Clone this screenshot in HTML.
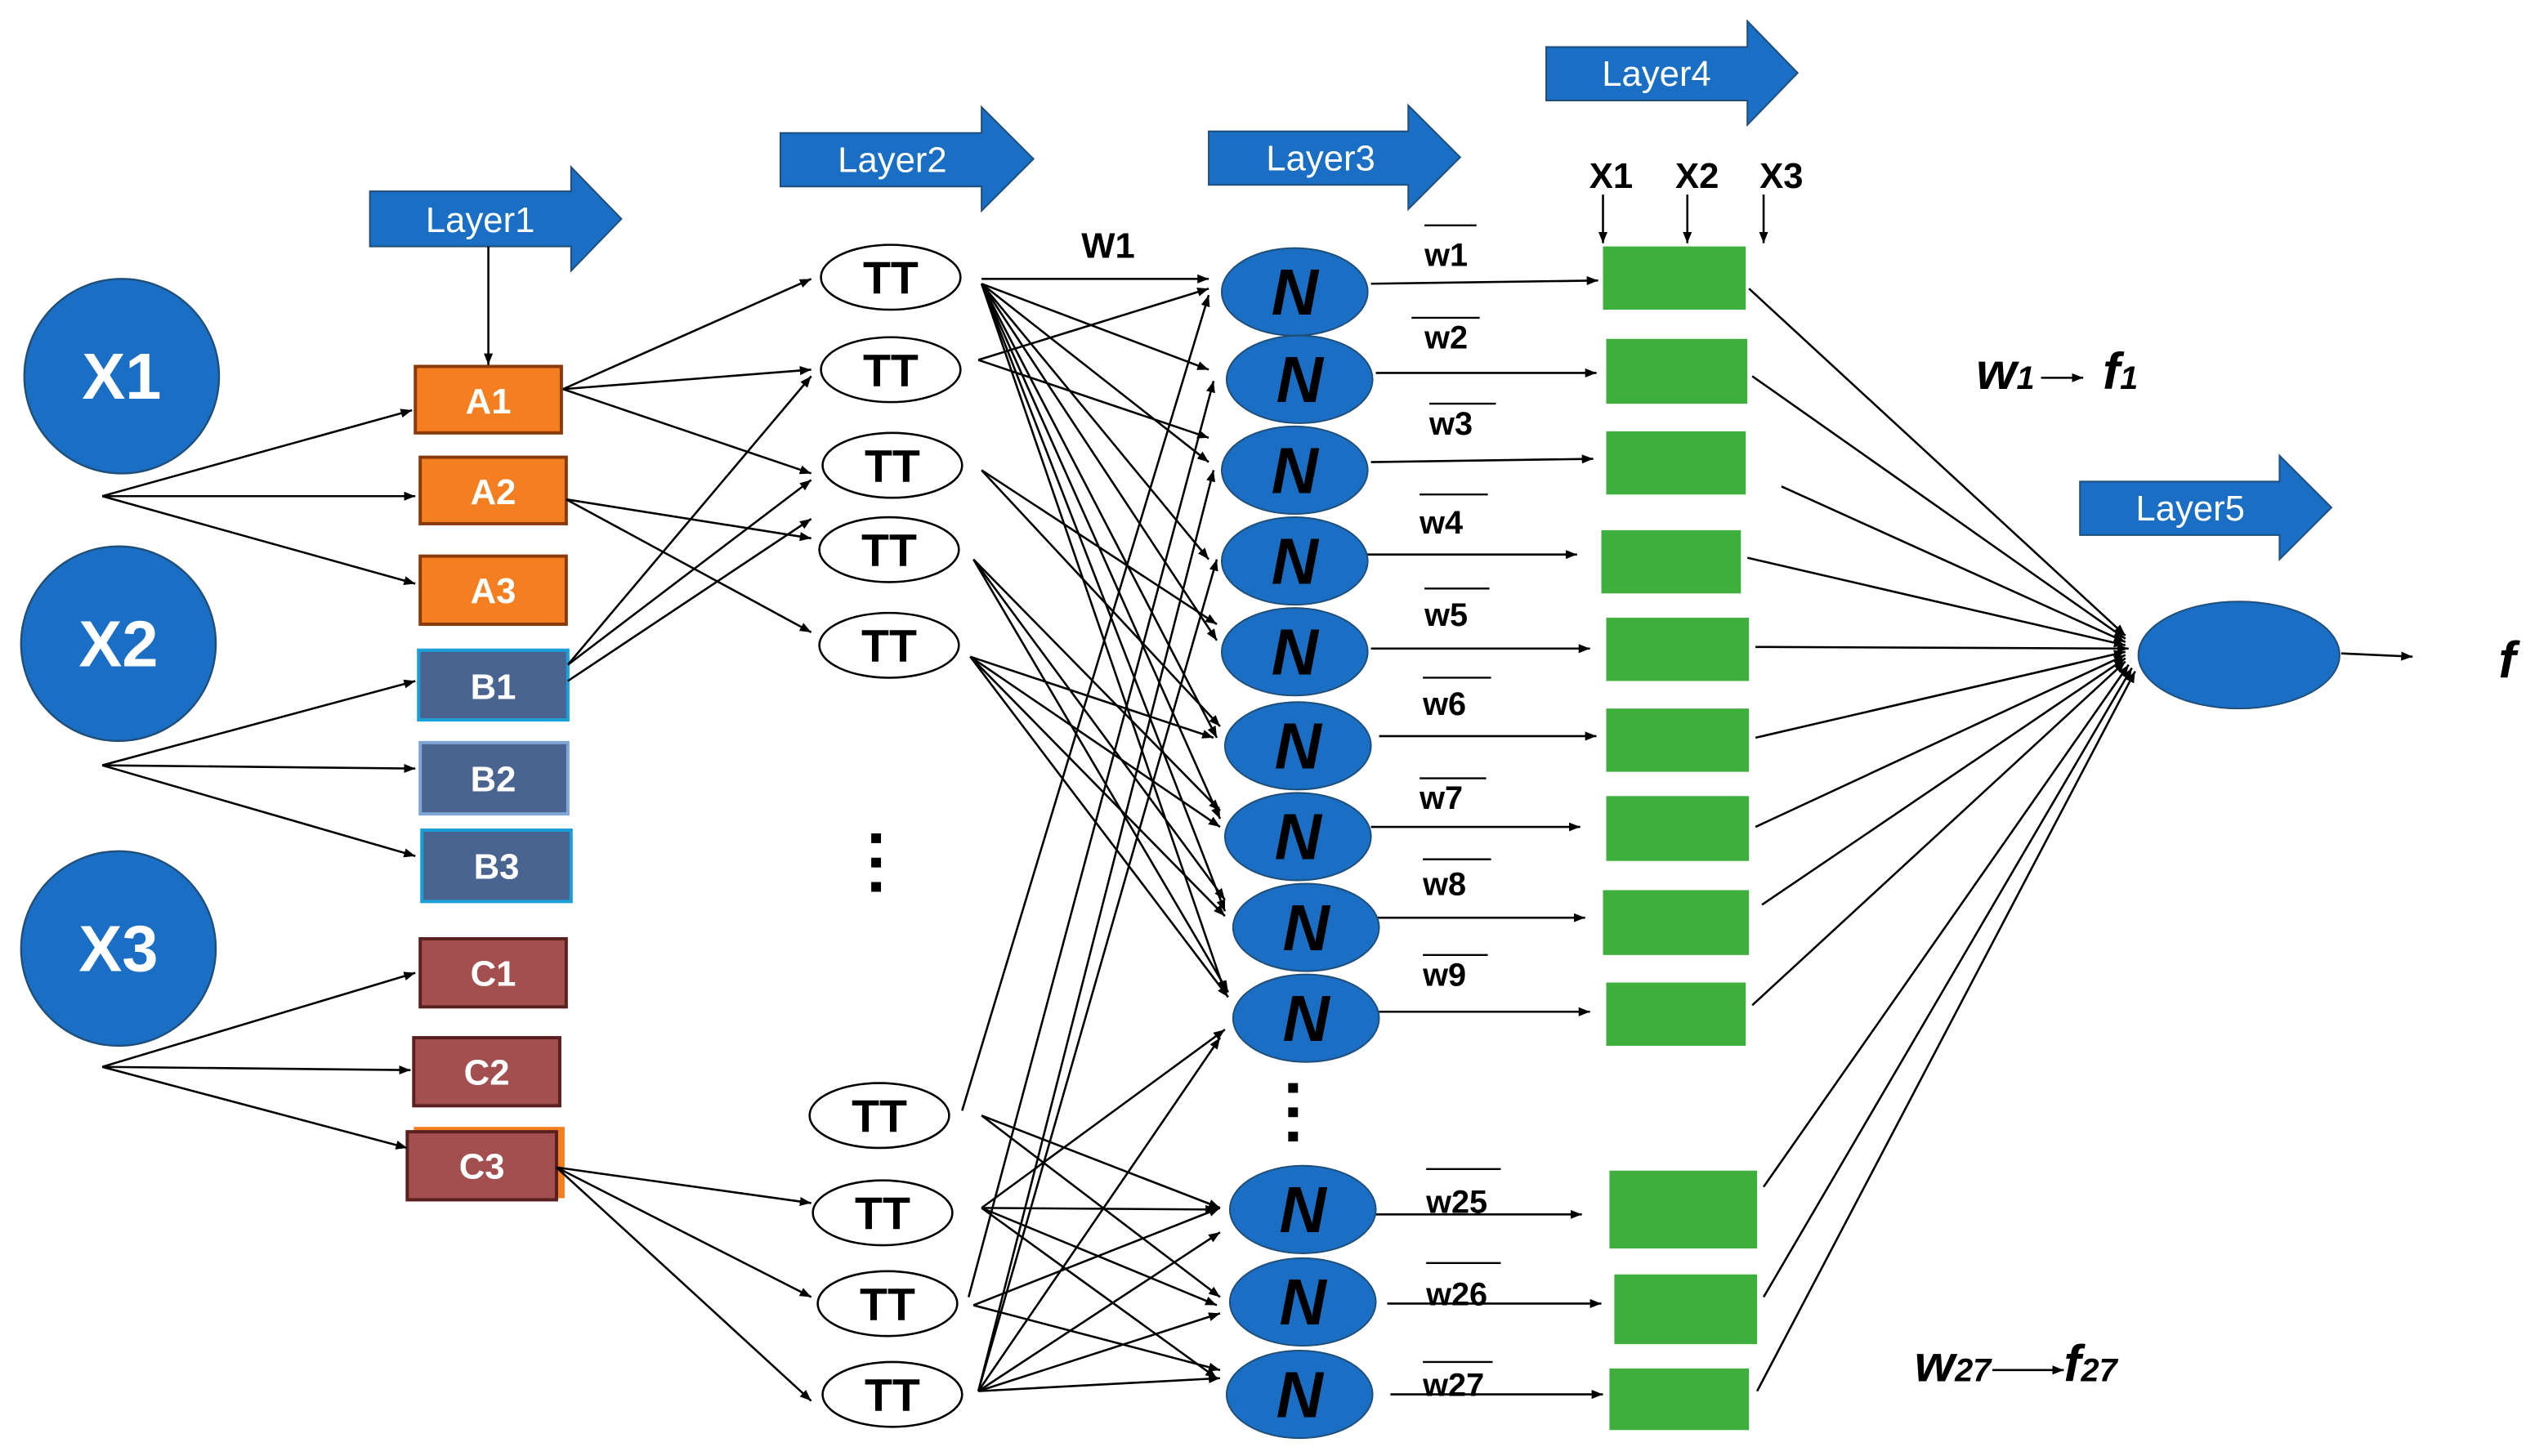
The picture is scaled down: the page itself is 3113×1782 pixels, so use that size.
<!DOCTYPE html>
<html><head><meta charset="utf-8"><style>
html,body{margin:0;padding:0;background:#fff}
svg{display:block}
text{font-family:"Liberation Sans",sans-serif}
</style></head><body>
<svg width="3113" height="1782" viewBox="0 0 1568 898" preserveAspectRatio="none" xmlns="http://www.w3.org/2000/svg">
<defs>
<marker id="a" viewBox="0 0 10 10" refX="10" refY="5" markerWidth="7" markerHeight="7" markerUnits="userSpaceOnUse" orient="auto"><path d="M0,1 L10,5 L0,9 z" fill="#000"/></marker>
</defs>
<g fill="#1a6fc4" stroke="#1f4e79" stroke-width="1">
<path d="M228,118 H352 V103 L383,135 L352,167 V152 H228 z"/>
<path d="M481,82 H605 V66 L637,98 L605,130 V115 H481 z"/>
<path d="M745,81 H868 V65 L900,97 L868,129 V114 H745 z"/>
<path d="M953,29 H1077 V13 L1108,45 L1077,77 V62 H953 z"/>
<path d="M1282,297 H1405 V281 L1437,313 L1405,345 V330 H1282 z"/>
</g>
<g fill="#fff" font-size="22" text-anchor="middle">
<text x="296" y="143">Layer1</text><text x="550" y="106">Layer2</text><text x="814" y="105">Layer3</text><text x="1021" y="53">Layer4</text><text x="1350" y="321">Layer5</text>
</g>
<g fill="#1a6fc4" stroke="#1f4e79" stroke-width="1.2">
<circle cx="75" cy="232" r="60"/><circle cx="73" cy="397" r="60"/><circle cx="73" cy="585" r="60"/>
</g>
<g fill="#fff" font-size="40" font-weight="bold" text-anchor="middle">
<text x="75" y="246">X1</text><text x="73" y="411">X2</text><text x="73" y="599">X3</text>
</g>
<g stroke-width="2">
<rect x="256" y="226" width="90" height="41" fill="#f47f20" stroke="#8a3a0a"/>
<rect x="259" y="282" width="90" height="41" fill="#f47f20" stroke="#8a3a0a"/>
<rect x="259" y="343" width="90" height="42" fill="#f47f20" stroke="#8a3a0a"/>
<rect x="258" y="401" width="92" height="43" fill="#4a6491" stroke="#1aa0d8"/>
<rect x="259" y="458" width="91" height="44" fill="#4a6491" stroke="#7fa6d8"/>
<rect x="260" y="512" width="92" height="44" fill="#4a6491" stroke="#1aa0d8"/>
<rect x="259" y="579" width="90" height="42" fill="#a34f4f" stroke="#5a2020"/>
<rect x="255" y="640" width="90" height="42" fill="#a34f4f" stroke="#5a2020"/>
<rect x="256" y="696" width="91" height="42" fill="#f47f20" stroke="#f47f20"/>
<rect x="251" y="698" width="92" height="42" fill="#a34f4f" stroke="#5a2020"/>
</g>
<g fill="#fff" font-size="22" font-weight="bold" text-anchor="middle">
<text x="301" y="255">A1</text><text x="304" y="311">A2</text><text x="304" y="372">A3</text>
<text x="304" y="431">B1</text><text x="304" y="488">B2</text><text x="306" y="542">B3</text>
<text x="304" y="608">C1</text><text x="300" y="669">C2</text><text x="297" y="727">C3</text>
</g>
<g stroke="#000" stroke-width="1.3" fill="none" marker-end="url(#a)">
<line x1="301" y1="152" x2="301" y2="225"/>
<line x1="63" y1="306" x2="254" y2="253"/><line x1="63" y1="306" x2="256" y2="306"/><line x1="63" y1="306" x2="256" y2="360"/>
<line x1="63" y1="472" x2="256" y2="420"/><line x1="63" y1="472" x2="256" y2="474"/><line x1="63" y1="472" x2="256" y2="528"/>
<line x1="63" y1="658" x2="256" y2="600"/><line x1="63" y1="658" x2="253" y2="660"/><line x1="63" y1="658" x2="251" y2="708"/>
<line x1="347" y1="240" x2="500" y2="172"/><line x1="347" y1="240" x2="500" y2="228"/><line x1="347" y1="240" x2="500" y2="292"/>
<line x1="349" y1="308" x2="500" y2="332"/><line x1="349" y1="308" x2="500" y2="390"/>
<line x1="350" y1="410" x2="500" y2="232"/><line x1="350" y1="410" x2="500" y2="296"/><line x1="350" y1="420" x2="500" y2="320"/>
<line x1="343" y1="720" x2="500" y2="742"/><line x1="343" y1="720" x2="500" y2="800"/><line x1="343" y1="720" x2="500" y2="864"/>
<line x1="605" y1="172" x2="745" y2="172"/>
<line x1="605" y1="175" x2="745" y2="228"/><line x1="605" y1="175" x2="745" y2="285"/><line x1="605" y1="175" x2="745" y2="345"/>
<line x1="605" y1="175" x2="750" y2="395"/><line x1="605" y1="175" x2="750" y2="455"/><line x1="605" y1="175" x2="752" y2="505"/>
<line x1="605" y1="175" x2="755" y2="562"/><line x1="605" y1="175" x2="755" y2="612"/>
<line x1="603" y1="222" x2="745" y2="178"/><line x1="603" y1="222" x2="745" y2="270"/>
<line x1="605" y1="290" x2="750" y2="385"/><line x1="605" y1="290" x2="752" y2="448"/>
<line x1="600" y1="345" x2="752" y2="500"/><line x1="600" y1="345" x2="755" y2="555"/><line x1="600" y1="345" x2="757" y2="612"/>
<line x1="598" y1="405" x2="748" y2="455"/><line x1="598" y1="405" x2="752" y2="510"/><line x1="598" y1="405" x2="755" y2="565"/><line x1="598" y1="405" x2="757" y2="615"/>
<line x1="593" y1="685" x2="745" y2="182"/><line x1="605" y1="688" x2="752" y2="745"/><line x1="605" y1="688" x2="752" y2="800"/>
<line x1="605" y1="745" x2="755" y2="635"/><line x1="605" y1="745" x2="750" y2="746"/><line x1="605" y1="745" x2="750" y2="805"/><line x1="605" y1="745" x2="750" y2="850"/>
<line x1="597" y1="800" x2="748" y2="235"/><line x1="600" y1="805" x2="752" y2="745"/><line x1="600" y1="805" x2="752" y2="845"/>
<line x1="603" y1="858" x2="748" y2="290"/><line x1="603" y1="858" x2="750" y2="345"/><line x1="603" y1="858" x2="752" y2="640"/>
<line x1="603" y1="858" x2="752" y2="760"/><line x1="603" y1="858" x2="752" y2="810"/><line x1="603" y1="858" x2="752" y2="850"/>
<line x1="845" y1="175" x2="985" y2="173"/><line x1="848" y1="230" x2="984" y2="230"/><line x1="845" y1="285" x2="982" y2="283"/>
<line x1="830" y1="342" x2="972" y2="342"/><line x1="845" y1="400" x2="980" y2="400"/><line x1="850" y1="454" x2="984" y2="454"/>
<line x1="845" y1="510" x2="974" y2="510"/><line x1="848" y1="566" x2="977" y2="566"/><line x1="850" y1="624" x2="980" y2="624"/>
<line x1="845" y1="749" x2="975" y2="749"/><line x1="855" y1="804" x2="987" y2="804"/><line x1="857" y1="860" x2="988" y2="860"/>
<line x1="988" y1="120" x2="988" y2="150"/><line x1="1040" y1="120" x2="1040" y2="150"/><line x1="1087" y1="120" x2="1087" y2="150"/>
<line x1="1078" y1="178" x2="1310" y2="392"/><line x1="1080" y1="232" x2="1310" y2="394"/><line x1="1098" y1="300" x2="1310" y2="396"/>
<line x1="1077" y1="344" x2="1310" y2="398"/><line x1="1082" y1="399" x2="1312" y2="400"/><line x1="1082" y1="455" x2="1310" y2="402"/>
<line x1="1082" y1="510" x2="1310" y2="404"/><line x1="1086" y1="558" x2="1310" y2="406"/><line x1="1080" y1="620" x2="1310" y2="408"/>
<line x1="1087" y1="732" x2="1312" y2="410"/><line x1="1087" y1="800" x2="1314" y2="412"/><line x1="1083" y1="858" x2="1316" y2="414"/>
<line x1="1443" y1="403" x2="1487" y2="405"/>
</g>
<g fill="#fff" stroke="#000" stroke-width="1.3">
<ellipse cx="549" cy="171" rx="43" ry="20"/><ellipse cx="549" cy="228" rx="43" ry="20"/><ellipse cx="550" cy="287" rx="43" ry="20"/>
<ellipse cx="548" cy="339" rx="43" ry="20"/><ellipse cx="548" cy="398" rx="43" ry="20"/>
<ellipse cx="542" cy="688" rx="43" ry="20"/><ellipse cx="544" cy="748" rx="43" ry="20"/><ellipse cx="547" cy="804" rx="43" ry="20"/><ellipse cx="550" cy="860" rx="43" ry="20"/>
</g>
<g font-size="28" text-anchor="middle" font-weight="bold">
<text x="549" y="181">TT</text><text x="549" y="238">TT</text><text x="550" y="297">TT</text><text x="548" y="349">TT</text><text x="548" y="408">TT</text>
<text x="542" y="698">TT</text><text x="544" y="758">TT</text><text x="547" y="814">TT</text><text x="550" y="870">TT</text>
</g>
<g fill="#000"><rect x="537" y="514" width="6" height="6"/><rect x="537" y="529" width="6" height="6"/><rect x="537" y="544" width="6" height="6"/>
<rect x="794" y="668" width="6" height="6"/><rect x="794" y="683" width="6" height="6"/><rect x="794" y="698" width="6" height="6"/></g>
<g fill="#1a6fc4" stroke="#1f4e79" stroke-width="1">
<ellipse cx="798" cy="180" rx="45" ry="27"/><ellipse cx="801" cy="234" rx="45" ry="27"/><ellipse cx="798" cy="290" rx="45" ry="27"/>
<ellipse cx="798" cy="346" rx="45" ry="27"/><ellipse cx="798" cy="402" rx="45" ry="27"/><ellipse cx="800" cy="460" rx="45" ry="27"/>
<ellipse cx="800" cy="516" rx="45" ry="27"/><ellipse cx="805" cy="572" rx="45" ry="27"/><ellipse cx="805" cy="628" rx="45" ry="27"/>
<ellipse cx="803" cy="746" rx="45" ry="27"/><ellipse cx="803" cy="803" rx="45" ry="27"/><ellipse cx="801" cy="860" rx="45" ry="27"/>
<ellipse cx="1380" cy="404" rx="62" ry="33"/>
</g>
<g font-size="40" font-weight="bold" font-style="italic" text-anchor="middle" fill="#000">
<text x="798" y="194">N</text><text x="801" y="248">N</text><text x="798" y="304">N</text><text x="798" y="360">N</text><text x="798" y="416">N</text><text x="800" y="474">N</text>
<text x="800" y="530">N</text><text x="805" y="586">N</text><text x="805" y="642">N</text><text x="803" y="760">N</text><text x="803" y="817">N</text><text x="801" y="874">N</text>
</g>
<g fill="#3eae3c">
<rect x="988" y="152" width="88" height="39"/><rect x="990" y="209" width="87" height="40"/><rect x="990" y="266" width="86" height="39"/>
<rect x="987" y="327" width="86" height="39"/><rect x="990" y="381" width="88" height="39"/><rect x="990" y="437" width="88" height="39"/>
<rect x="990" y="491" width="88" height="40"/><rect x="988" y="549" width="90" height="40"/><rect x="990" y="606" width="86" height="39"/>
<rect x="992" y="722" width="91" height="48"/><rect x="995" y="786" width="88" height="43"/><rect x="992" y="844" width="86" height="38"/>
</g>
<g font-size="20" font-weight="bold" fill="#000">
<text x="878" y="164">w1</text><text x="878" y="215">w2</text><text x="881" y="268">w3</text><text x="875" y="329">w4</text>
<text x="878" y="386">w5</text><text x="877" y="441">w6</text><text x="875" y="499">w7</text><text x="877" y="552">w8</text><text x="877" y="608">w9</text>
<text x="879" y="748">w25</text><text x="879" y="805">w26</text><text x="877" y="861">w27</text>
</g>
<g stroke="#000" stroke-width="1.2">
<line x1="878" y1="139" x2="910" y2="139"/><line x1="870" y1="196" x2="912" y2="196"/><line x1="881" y1="249" x2="922" y2="249"/>
<line x1="875" y1="305" x2="917" y2="305"/><line x1="878" y1="363" x2="918" y2="363"/><line x1="877" y1="418" x2="919" y2="418"/>
<line x1="875" y1="480" x2="916" y2="480"/><line x1="877" y1="530" x2="919" y2="530"/><line x1="877" y1="589" x2="917" y2="589"/>
<line x1="879" y1="721" x2="925" y2="721"/><line x1="879" y1="779" x2="925" y2="779"/><line x1="877" y1="840" x2="920" y2="840"/>
</g>
<g font-size="22" font-weight="bold" fill="#000" text-anchor="middle">
<text x="993" y="116">X1</text><text x="1046" y="116">X2</text><text x="1098" y="116">X3</text>
<text x="683" y="159">W1</text>
</g>
<g font-size="32" font-weight="bold" font-style="italic" fill="#000">
<text x="1218" y="240">w<tspan font-size="20">1</tspan></text>
<text x="1296" y="240">f<tspan font-size="20">1</tspan></text>
<text x="1180" y="852">w<tspan font-size="20">27</tspan></text>
<text x="1272" y="852">f<tspan font-size="20">27</tspan></text>
<text x="1540" y="418">f</text>
</g>
<g stroke="#000" stroke-width="1.3" marker-end="url(#a)">
<line x1="1258" y1="233" x2="1284" y2="233"/><line x1="1228" y1="845" x2="1272" y2="845"/>
</g>
</svg>
</body></html>
